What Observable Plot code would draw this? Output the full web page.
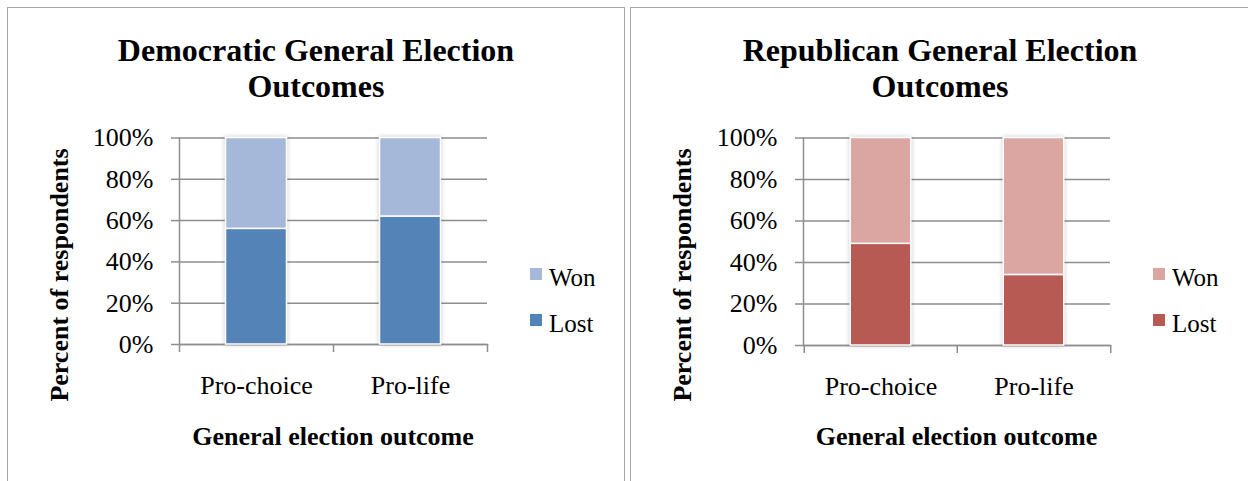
<!DOCTYPE html>
<html>
<head>
<meta charset="utf-8">
<script src="https://cdn.jsdelivr.net/npm/d3@7"></script>
<script src="https://cdn.jsdelivr.net/npm/@observablehq/plot@0.6"></script>
<style>
  html, body { margin: 0; padding: 0; background: #fff; }
  #root { position: relative; width: 1248px; height: 481px; overflow: hidden; font-family: "Liberation Serif", "Times New Roman", serif; color: #000; }
  .panel { position: absolute; top: 7px; height: 480px; box-sizing: border-box; border: 1.5px solid #a6a6a6; border-bottom: none; }
  .title { position: absolute; top: 32px; font-weight: bold; font-size: 32px; line-height: 36px; text-align: center; }
  .ytitle { position: absolute; font-weight: bold; font-size: 26px; white-space: nowrap; transform: translate(-50%, -50%) rotate(-90deg); }
  .xtitle { position: absolute; top: 424px; font-weight: bold; font-size: 26px; line-height: 1; white-space: nowrap; transform: translateX(-50%); }
  .legsq { position: absolute; width: 12px; height: 12px; }
  .legtx { position: absolute; font-size: 25px; line-height: 1; white-space: nowrap; }
  .chart { position: absolute; top: 0; }
  .bars { filter: drop-shadow(0 0 2px rgba(0,0,0,0.22)); }
</style>
</head>
<body>
<div id="root"></div>
<script>
// ---- data ----
const categories = ["Pro-choice", "Pro-life"];
const outcomes = ["Lost", "Won"];          // stack order (bottom to top)
const legendOrder = ["Won", "Lost"];
const demLost = [56, 62];
const demWon  = [44, 38];
const repLost = [49, 34];
const repWon  = [51, 66];
const yTicks = [0, 20, 40, 60, 80, 100];
const demColors = {Lost: "#5383b7", Won: "#a6b8d9"};
const repColors = {Lost: "#b85a54", Won: "#dba6a2"};
const titles = ["Democratic General Election\nOutcomes", "Republican General Election\nOutcomes"];
const yTitle = "Percent of respondents";
const xTitle = "General election outcome";

const root = document.getElementById("root");
const grid = "#8e8e8e";

function rows(lost, won) {
  const out = [];
  categories.forEach((c, i) => {
    out.push({category: c, outcome: "Lost", value: lost[i]});
    out.push({category: c, outcome: "Won", value: won[i]});
  });
  return out;
}

function panel(cfg) {
  const p = document.createElement("div");
  p.className = "panel";
  p.style.left = cfg.panelLeft + "px";
  p.style.width = cfg.panelWidth + "px";
  root.appendChild(p);

  const data = rows(cfg.lost, cfg.won);
  const bw = cfg.width - cfg.mL - cfg.mR;
  const half = bw / categories.length / 2;
  const plotH = 481 - cfg.mT - cfg.mB;

  const chart = Plot.plot({
    width: cfg.width,
    height: 481,
    marginLeft: cfg.mL,
    marginRight: cfg.mR,
    marginTop: cfg.mT,
    marginBottom: cfg.mB,
    style: "font-family: 'Liberation Serif', serif; font-size: 26px; color: #000; background: transparent; overflow: visible;",
    x: {domain: categories, padding: 0},
    y: {domain: [0, 100]},
    color: {domain: outcomes, range: outcomes.map(o => cfg.colors[o])},
    marks: [
      Plot.gridY(yTicks, {stroke: grid, strokeOpacity: 1, strokeWidth: 1.5}),
      Plot.frame({anchor: "left", stroke: grid, strokeWidth: 1.5}),
      Plot.frame({anchor: "bottom", stroke: grid, strokeWidth: 1.5}),
      Plot.axisY({ticks: yTicks, tickFormat: d => d + "%", tickSize: 8, tickPadding: 18, stroke: grid, strokeWidth: 1.5, fill: "#000", label: null}),
      Plot.axisX({tickSize: 0, tickPadding: 31, fill: "#000", label: null}),
      Plot.ruleX(categories, {x: d => d, dx: -half, insetTop: plotH, insetBottom: -8, stroke: grid, strokeWidth: 1.5}),
      Plot.ruleX(categories.slice(-1), {x: d => d, dx: half, insetTop: plotH, insetBottom: -8, stroke: grid, strokeWidth: 1.5}),
      Plot.barY(data, Plot.stackY({
        x: "category", y: "value", z: "outcome", fill: "outcome", order: outcomes,
        insetLeft: cfg.inset, insetRight: cfg.inset,
        stroke: "#fff", strokeWidth: 1.5, className: "bars"
      }))
    ]
  });
  chart.classList.add("chart");
  chart.style.left = cfg.left + "px";
  root.appendChild(chart);

  const t = document.createElement("div");
  t.className = "title";
  t.style.left = cfg.panelLeft + "px";
  t.style.width = cfg.panelWidth + "px";
  t.innerHTML = cfg.title.split("\n").join("<br>");
  root.appendChild(t);

  const yt = document.createElement("div");
  yt.className = "ytitle";
  yt.style.left = (cfg.left + cfg.yTitleX) + "px";
  yt.style.top = "275px";
  yt.textContent = yTitle;
  root.appendChild(yt);

  const xt = document.createElement("div");
  xt.className = "xtitle";
  xt.style.left = (cfg.left + cfg.mL + bw / 2) + "px";
  xt.textContent = xTitle;
  root.appendChild(xt);

  legendOrder.forEach((o, i) => {
    const sq = document.createElement("div");
    sq.className = "legsq";
    sq.style.background = cfg.colors[o];
    sq.style.left = cfg.legX + "px";
    sq.style.top = (268 + i * 45.5) + "px";
    root.appendChild(sq);
    const tx = document.createElement("div");
    tx.className = "legtx";
    tx.style.left = (cfg.legX + 19) + "px";
    tx.style.top = (265 + i * 45.5) + "px";
    tx.textContent = o;
    root.appendChild(tx);
  });
}

panel({panelLeft: 7, panelWidth: 618, left: 0, width: 624, mL: 179, mR: 137, mT: 137.5, mB: 137,
  inset: 46.5, lost: demLost, won: demWon, colors: demColors, title: titles[0], yTitleX: 60, legX: 530});
panel({panelLeft: 630, panelWidth: 620, left: 623, width: 625, mL: 180, mR: 138, mT: 137.5, mB: 136,
  inset: 46.25, lost: repLost, won: repWon, colors: repColors, title: titles[1], yTitleX: 60, legX: 1153});
</script>
</body>
</html>
